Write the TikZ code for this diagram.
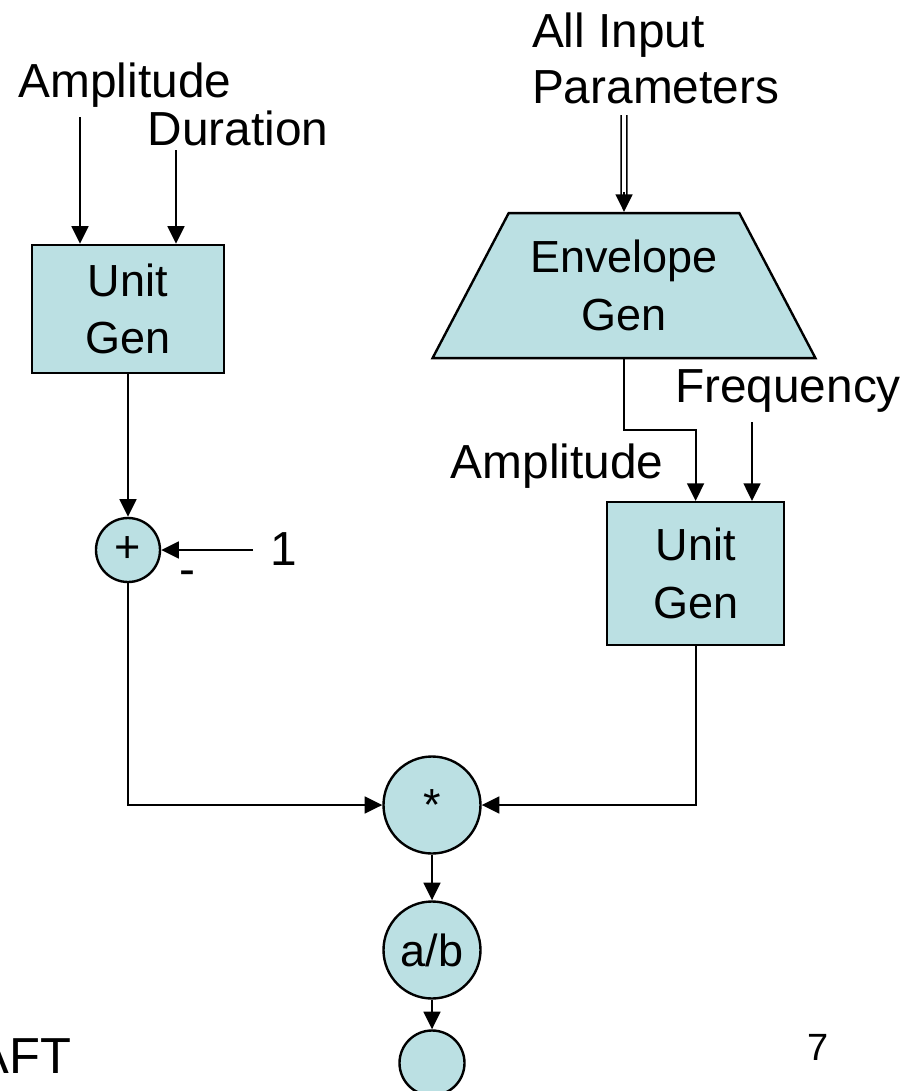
\documentclass[tikz,border=0pt]{standalone}
\usepackage{fontspec}
\setmainfont{Liberation Sans}
\usetikzlibrary{arrows.meta,shapes.geometric}
\definecolor{gencyan}{HTML}{BBE0E3}

\begin{document}
\begin{tikzpicture}[font=\fontsize{34}{40}\selectfont, line width=1.4pt, >={Triangle[length=12.5pt,width=12pt]},
  gen/.style={draw, fill=gencyan, line width=1.7pt, align=center, font=\fontsize{32}{41}\selectfont},
  op/.style={gen, circle, inner sep=0pt}]
\useasboundingbox (0,0) rectangle (23,-27.275);
\clip (0,0) rectangle (23,-27.275);
\node[anchor=base] (ampl) at (3.125,-2.425) {Amplitude};
\node[anchor=base] (dur) at (5.95,-3.625) {Duration};
\coordinate (ampin) at (2,-2.925);
\coordinate (durin) at (4.4,-3.75);
\node[gen, minimum width=4.8cm, minimum height=3.2cm] (ugl) at (3.2,-7.725) {Unit\\Gen};
\node[op, minimum size=1.6cm] (plus) at (3.2,-13.75) {+};
\node[anchor=base] (one) at (7.1,-14.125) {1};
\coordinate (onein) at (6.325,-13.75);
\node (minus) at (4.675,-14.45) {-};
\node[align=left, inner sep=0pt] (params) at (16.39,-1.46) {All Input\\Parameters};
\coordinate (parin) at (15.6,-2.875);
\node[gen, trapezium, trapezium left angle=57, trapezium right angle=57, trapezium stretches=true,
  minimum width=9.6cm, minimum height=3.625cm] (env) at (15.6,-7.14) {Envelope\\Gen};
\node[anchor=base] (freq) at (19.7,-10.05) {Frequency};
\coordinate (freqin) at (18.8,-10.55);
\node[anchor=base] (ampr) at (13.925,-11.95) {Amplitude};
\node[gen, minimum width=4.425cm, minimum height=3.575cm] (ugr) at (17.39,-14.34) {Unit\\Gen};
\node[op, minimum size=2.425cm] (mul) at (10.8,-20.125) {*};
\node[op, minimum size=2.425cm] (div) at (10.8,-23.75) {a/b};
\node[op, minimum size=1.625cm] (out) at (10.8,-26.575) {};
\node[anchor=base east, inner sep=0pt, font=\fontsize{36}{40}\selectfont] (draft) at (1.8,-26.825) {AFT};
\node[font=\fontsize{27}{30}\selectfont] (page) at (20.45,-26.175) {7};
\draw[->] (ampin) -- (ampin |- ugl.north);
\draw[->] (durin) -- (durin |- ugl.north);
\draw[->] (ugl) -- (plus);
\draw[->] (onein) -- (plus);
\draw[double, double distance=2.8pt, line width=1.2pt, shorten >=11pt] (parin) -- (env.north);
\draw[->] ([yshift=14pt]env.north) -- (env.north);
\draw[->] (env.south) -- ++(0,-1.775) -| (ugr.north);
\draw[->] (freqin) -- (freqin |- ugr.north);
\draw[->] (plus.south) |- (mul.west);
\draw[->] (ugr.south) |- (mul.east);
\draw[->] (mul) -- (div);
\draw[->] (div) -- (out);
\end{tikzpicture}
\end{document}
